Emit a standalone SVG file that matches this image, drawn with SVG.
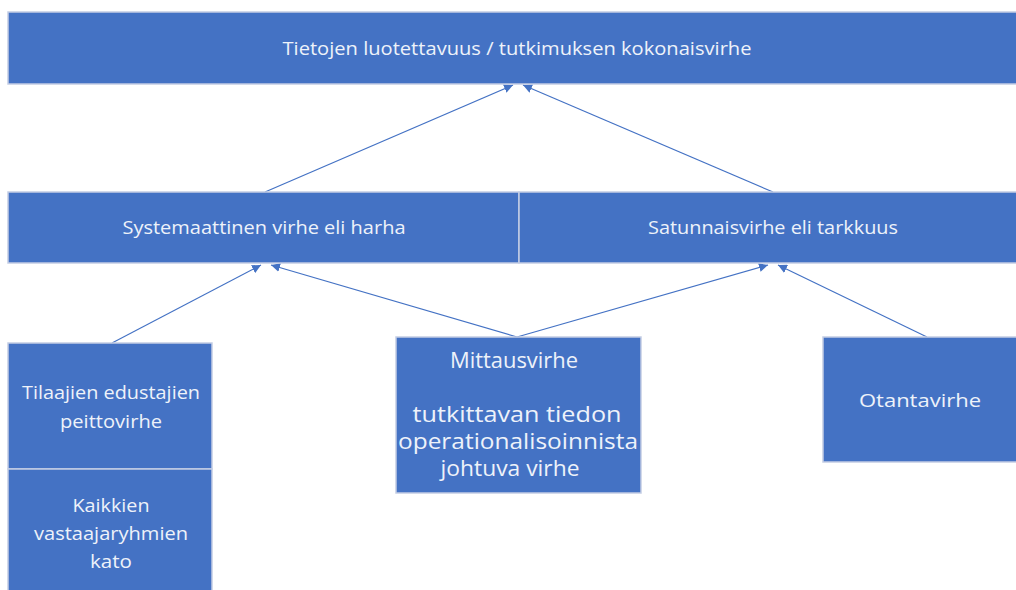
<svg xmlns="http://www.w3.org/2000/svg" width="1016" height="590" viewBox="0 0 1016 590">
  <defs>
    <marker id="arr" viewBox="0 0 10 10" refX="10" refY="5" markerWidth="9" markerHeight="9" markerUnits="userSpaceOnUse" orient="auto">
      <path d="M0,0 L10,5 L0,10 Z" fill="#4472C4"/>
    </marker>
    <style>
      .box { fill: #4472C4; stroke: #c3cde4; stroke-width: 1.5; }
      .t { fill: #eef2fa; font-family: "Open Sans", "Liberation Sans", sans-serif; font-size: 19px; text-anchor: middle; }
      .big { font-size: 21px; }
      .conn { stroke: #4472C4; stroke-width: 1.2; fill: none; marker-end: url(#arr); }
    </style>
  </defs>
  <rect width="1016" height="590" fill="#ffffff"/>

  <g id="connectors">
    <line class="conn" x1="265" y1="192" x2="513" y2="85"/>
    <line class="conn" x1="773" y1="192" x2="523" y2="85"/>
    <line class="conn" x1="112" y1="343" x2="261" y2="265"/>
    <line class="conn" x1="517" y1="337" x2="271" y2="265"/>
    <line class="conn" x1="517" y1="337" x2="768" y2="265"/>
    <line class="conn" x1="927" y1="337" x2="778" y2="265"/>
  </g>

  <g id="node-total">
    <rect class="box" x="8" y="12" width="1016" height="72"/>
    <text class="t" x="517" y="55" textLength="469" lengthAdjust="spacingAndGlyphs">Tietojen luotettavuus / tutkimuksen kokonaisvirhe</text>
  </g>

  <g id="node-systematic">
    <rect class="box" x="8" y="192" width="511" height="71"/>
    <text class="t" x="264" y="234" textLength="283" lengthAdjust="spacingAndGlyphs">Systemaattinen virhe eli harha</text>
  </g>

  <g id="node-random">
    <rect class="box" x="519" y="192" width="505" height="71"/>
    <text class="t" x="773" y="234" textLength="250" lengthAdjust="spacingAndGlyphs">Satunnaisvirhe eli tarkkuus</text>
  </g>

  <g id="node-coverage">
    <rect class="box" x="8" y="343" width="204" height="126"/>
    <text class="t" x="111" y="399" textLength="178" lengthAdjust="spacingAndGlyphs">Tilaajien edustajien</text>
    <text class="t" x="111" y="428" textLength="102" lengthAdjust="spacingAndGlyphs">peittovirhe</text>
  </g>

  <g id="node-nonresponse">
    <rect class="box" x="8" y="469" width="204" height="130"/>
    <text class="t" x="111" y="512" textLength="77" lengthAdjust="spacingAndGlyphs">Kaikkien</text>
    <text class="t" x="111" y="540" textLength="154" lengthAdjust="spacingAndGlyphs">vastaajaryhmien</text>
    <text class="t" x="111" y="568" textLength="42" lengthAdjust="spacingAndGlyphs">kato</text>
  </g>

  <g id="node-measurement">
    <rect class="box" x="396" y="337" width="245" height="156"/>
    <text class="t big" x="514" y="368" textLength="128" lengthAdjust="spacingAndGlyphs">Mittausvirhe</text>
    <text class="t big" x="517" y="422" textLength="209" lengthAdjust="spacingAndGlyphs">tutkittavan tiedon</text>
    <text class="t big" x="518" y="449" textLength="240" lengthAdjust="spacingAndGlyphs">operationalisoinnista</text>
    <text class="t big" x="510" y="476" textLength="139" lengthAdjust="spacingAndGlyphs">johtuva virhe</text>
  </g>

  <g id="node-sampling">
    <rect class="box" x="823" y="337" width="200" height="125"/>
    <text class="t" x="920" y="407" textLength="122" lengthAdjust="spacingAndGlyphs">Otantavirhe</text>
  </g>
</svg>
